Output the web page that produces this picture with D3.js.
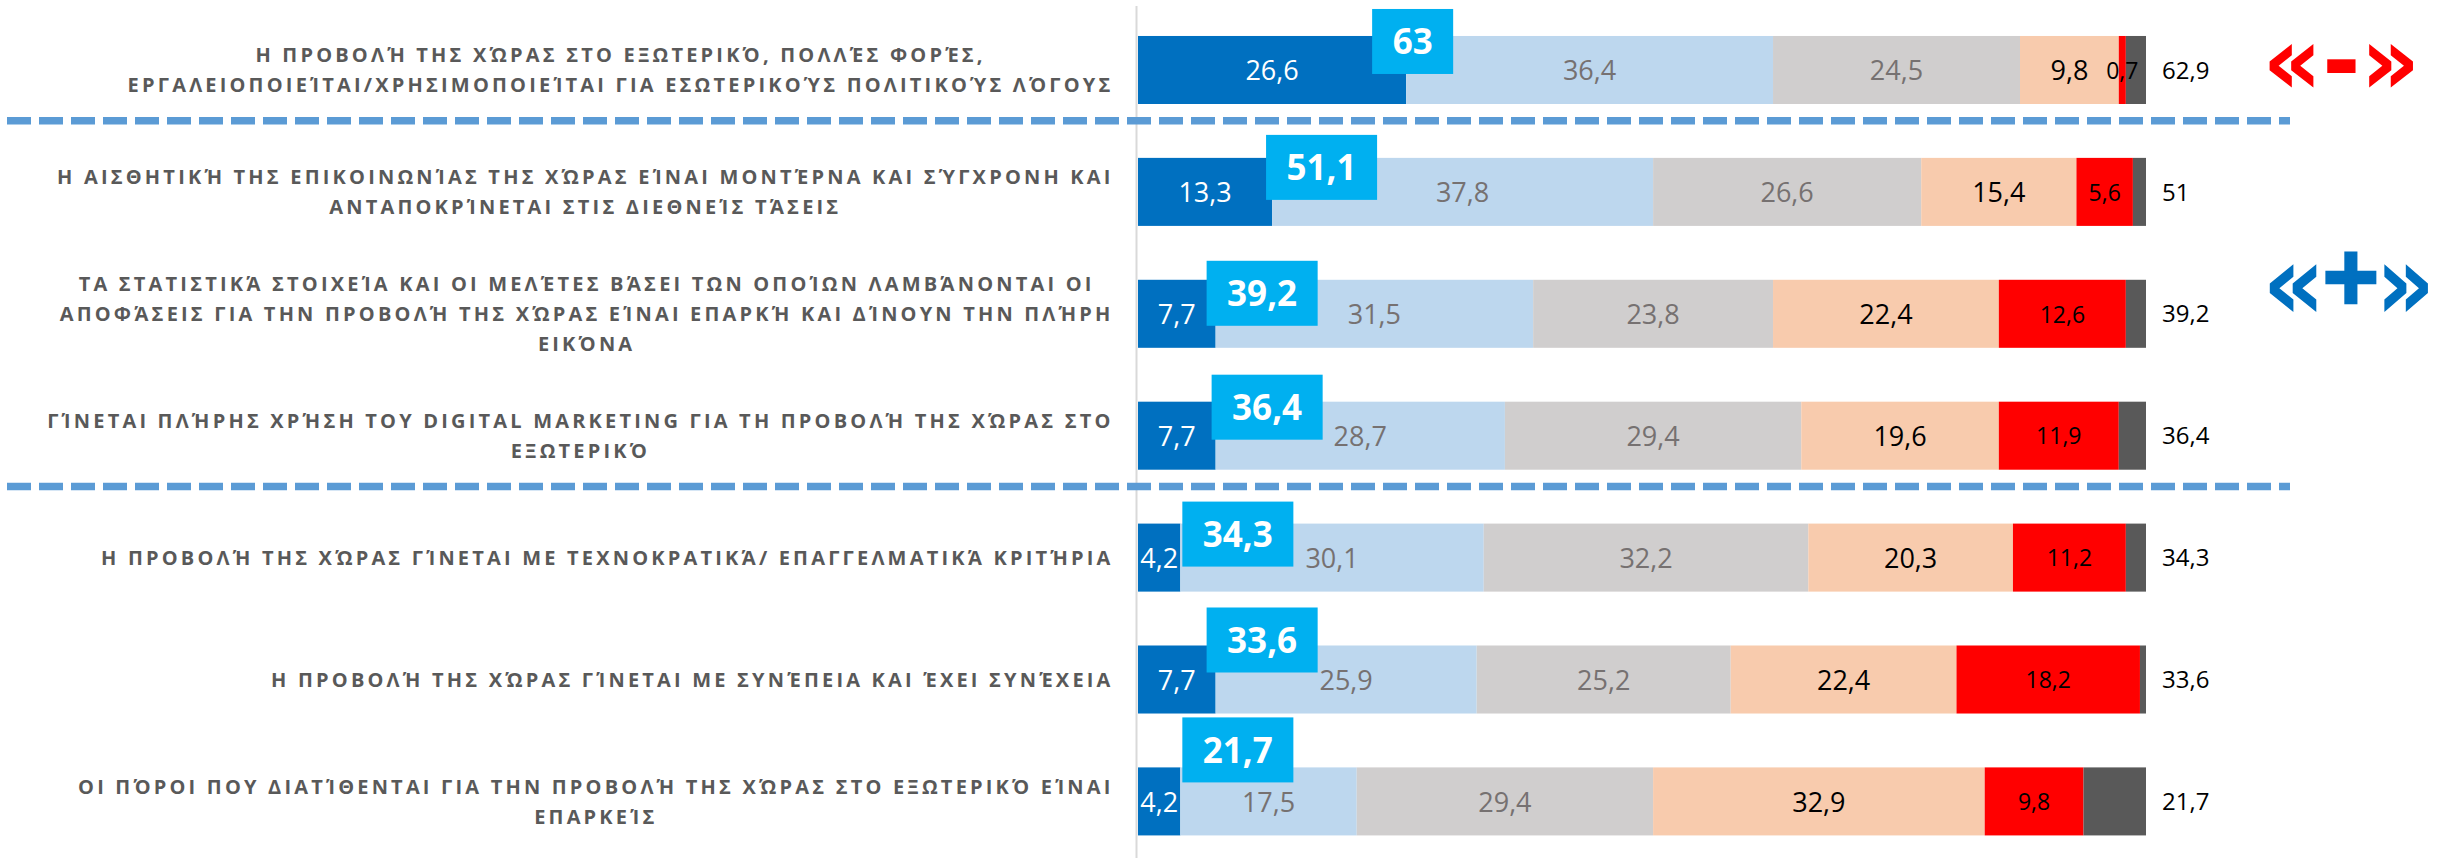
<!DOCTYPE html>
<html>
<head>
<meta charset="utf-8">
<script src="https://cdn.jsdelivr.net/npm/d3@7"></script>
<style>
  body { margin: 0; background: #fff; }
</style>
</head>
<body>
<div id="my_dataviz"></div>
<script>
// row labels, split into the lines shown in the picture
var categories = [
  ["Η ΠΡΟΒΟΛΉ ΤΗΣ ΧΏΡΑΣ ΣΤΟ ΕΞΩΤΕΡΙΚΌ, ΠΟΛΛΈΣ ΦΟΡΈΣ,",
   "ΕΡΓΑΛΕΙΟΠΟΙΕΊΤΑΙ/ΧΡΗΣΙΜΟΠΟΙΕΊΤΑΙ ΓΙΑ ΕΣΩΤΕΡΙΚΟΎΣ ΠΟΛΙΤΙΚΟΎΣ ΛΌΓΟΥΣ"],
  ["Η ΑΙΣΘΗΤΙΚΉ ΤΗΣ ΕΠΙΚΟΙΝΩΝΊΑΣ ΤΗΣ ΧΏΡΑΣ ΕΊΝΑΙ ΜΟΝΤΈΡΝΑ ΚΑΙ ΣΎΓΧΡΟΝΗ ΚΑΙ",
   "ΑΝΤΑΠΟΚΡΊΝΕΤΑΙ ΣΤΙΣ ΔΙΕΘΝΕΊΣ ΤΆΣΕΙΣ"],
  ["ΤΑ ΣΤΑΤΙΣΤΙΚΆ ΣΤΟΙΧΕΊΑ ΚΑΙ ΟΙ ΜΕΛΈΤΕΣ ΒΆΣΕΙ ΤΩΝ ΟΠΟΊΩΝ ΛΑΜΒΆΝΟΝΤΑΙ ΟΙ",
   "ΑΠΟΦΆΣΕΙΣ ΓΙΑ ΤΗΝ ΠΡΟΒΟΛΉ ΤΗΣ ΧΏΡΑΣ ΕΊΝΑΙ ΕΠΑΡΚΉ ΚΑΙ ΔΊΝΟΥΝ ΤΗΝ ΠΛΉΡΗ",
   "ΕΙΚΌΝΑ"],
  ["ΓΊΝΕΤΑΙ ΠΛΉΡΗΣ ΧΡΉΣΗ ΤΟΥ DIGITAL MARKETING ΓΙΑ ΤΗ ΠΡΟΒΟΛΉ ΤΗΣ ΧΏΡΑΣ ΣΤΟ",
   "ΕΞΩΤΕΡΙΚΌ"],
  ["Η ΠΡΟΒΟΛΉ ΤΗΣ ΧΏΡΑΣ ΓΊΝΕΤΑΙ ΜΕ ΤΕΧΝΟΚΡΑΤΙΚΆ/ ΕΠΑΓΓΕΛΜΑΤΙΚΆ ΚΡΙΤΉΡΙΑ"],
  ["Η ΠΡΟΒΟΛΉ ΤΗΣ ΧΏΡΑΣ ΓΊΝΕΤΑΙ ΜΕ ΣΥΝΈΠΕΙΑ ΚΑΙ ΈΧΕΙ ΣΥΝΈΧΕΙΑ"],
  ["ΟΙ ΠΌΡΟΙ ΠΟΥ ΔΙΑΤΊΘΕΝΤΑΙ ΓΙΑ ΤΗΝ ΠΡΟΒΟΛΉ ΤΗΣ ΧΏΡΑΣ ΣΤΟ ΕΞΩΤΕΡΙΚΌ ΕΊΝΑΙ",
   "ΕΠΑΡΚΕΊΣ"]
];

// series values (% of answers)
var veryMuch   = [26.6, 13.3, 7.7, 7.7, 4.2, 7.7, 4.2];
var much       = [36.4, 37.8, 31.5, 28.7, 30.1, 25.9, 17.5];
var moderately = [24.5, 26.6, 23.8, 29.4, 32.2, 25.2, 29.4];
var little     = [9.8, 15.4, 22.4, 19.6, 20.3, 22.4, 32.9];
var notAtAll   = [0.7, 5.6, 12.6, 11.9, 11.2, 18.2, 9.8];
var noAnswer   = [2.0, 1.3, 2.0, 2.7, 2.0, 0.6, 6.2];

// highlighted box (top two) and the figure to the right of each bar
var topTwo = [63, 51.1, 39.2, 36.4, 34.3, 33.6, 21.7];
var totals = [62.9, 51, 39.2, 36.4, 34.3, 33.6, 21.7];

// separators drawn after these rows
var groupBreaks = [0, 3];

var keys = ["veryMuch", "much", "moderately", "little", "notAtAll", "noAnswer"];
var colors = ["#0070C0", "#BDD7EE", "#D0CECE", "#F8CBAD", "#FF0000", "#595959"];
var labelColors = ["#FFFFFF", "#767171", "#767171", "#000000", "#000000", null];
var labelSizes = [27, 27, 27, 27, 23, 0];

var width = 2440, height = 858;

var svg = d3
  .select("#my_dataviz")
  .append("svg")
  .attr("width", width)
  .attr("height", height)
  .style("font-family", "'Open Sans', sans-serif");

var table = categories.map(function (c, i) {
  return {
    veryMuch: veryMuch[i], much: much[i], moderately: moderately[i],
    little: little[i], notAtAll: notAtAll[i], noAnswer: noAnswer[i]
  };
});
var series = d3.stack().keys(keys)(table);

var x = d3.scaleLinear().domain([0, 100]).range([1138, 2146]);
var y = d3
  .scaleBand()
  .domain(d3.range(categories.length))
  .range([5.5, 865.9])
  .paddingInner(0.442)
  .paddingOuter(0.25);
var bw = y.bandwidth();

var fmt = function (v) { return String(v).replace(".", ","); };

// vertical axis line
svg.append("g")
  .attr("transform", "translate(" + (x(0) - 2) + ",0)")
  .call(d3.axisLeft(y).tickSize(0).tickFormat(""))
  .call(function (g) {
    g.select(".domain").attr("stroke", "#D9D9D9").attr("stroke-width", 2);
  });

// stacked bars
var layer = svg
  .selectAll("g.layer")
  .data(series)
  .enter()
  .append("g")
  .attr("class", "layer")
  .attr("fill", function (d, k) { return colors[k]; });

layer
  .selectAll("rect")
  .data(function (d) { return d; })
  .enter()
  .append("rect")
  .attr("x", function (d) { return x(d[0]); })
  .attr("y", function (d, i) { return y(i); })
  .attr("width", function (d) { return x(d[1]) - x(d[0]); })
  .attr("height", bw);

// values inside the segments
series.forEach(function (s, k) {
  if (!labelColors[k]) return;
  svg.append("g")
    .selectAll("text")
    .data(s)
    .enter()
    .append("text")
    .attr("x", function (d) { return (x(d[0]) + x(d[1])) / 2; })
    .attr("y", function (d, i) { return y(i) + bw / 2; })
    .attr("dy", "0.38em")
    .attr("text-anchor", "middle")
    .attr("fill", labelColors[k])
    .style("font-size", labelSizes[k] + "px")
    .text(function (d) { return fmt(+(d[1] - d[0]).toFixed(1)); });
});

// totals on the right
svg.append("g")
  .selectAll("text")
  .data(totals)
  .enter()
  .append("text")
  .attr("x", x(100) + 16)
  .attr("y", function (d, i) { return y(i) + bw / 2; })
  .attr("dy", "0.36em")
  .attr("fill", "#000")
  .style("font-size", "24px")
  .text(function (d) { return fmt(d); });

// category labels: right aligned block, lines centred inside it.
// letter spacing is chosen so the longest first-row line fills the label column.
var labelRight = 1112, labelColumn = 986, lineH = 30;
var probe = svg.append("text")
  .style("font-size", "20px")
  .style("font-weight", 700)
  .text(categories[0][1]);
var spacing = (labelColumn - probe.node().getComputedTextLength()) / categories[0][1].length;
probe.remove();

categories.forEach(function (lines, i) {
  var g = svg.append("g");
  var cy = y(i) + bw / 2;
  var texts = g
    .selectAll("text")
    .data(lines)
    .enter()
    .append("text")
    .attr("y", function (d, j) { return cy + (j - (lines.length - 1) / 2) * lineH; })
    .attr("dy", "0.36em")
    .attr("text-anchor", "middle")
    .attr("fill", "#595959")
    .style("font-size", "20px")
    .style("font-weight", 700)
    .style("letter-spacing", spacing + "px")
    .text(function (d) { return d; });
  var maxW = d3.max(texts.nodes(), function (n) { return n.getComputedTextLength(); });
  texts.attr("x", labelRight - maxW / 2 + spacing / 2);
});

// dashed separators
groupBreaks.forEach(function (r) {
  var yy = y(r) + bw + (y(r + 1) - y(r) - bw) * 0.31;
  svg.append("line")
    .attr("x1", 7)
    .attr("x2", 2290)
    .attr("y1", yy)
    .attr("y2", yy)
    .attr("stroke", "#5B9BD5")
    .attr("stroke-width", 7.5)
    .attr("stroke-dasharray", "24 8");
});

// top-two boxes (hand placed in the original, hence the nudges)
var boxNudgeX = [-29, -1, -4, 1, 7, -4, 7];
var boxRaise = [27, 23, 19, 27, 22, 38, 50];
topTwo.forEach(function (v, i) {
  var g = svg.append("g");
  var t = g.append("text")
    .attr("text-anchor", "middle")
    .attr("fill", "#fff")
    .style("font-size", "35px")
    .style("font-weight", 700)
    .text(fmt(v));
  var w = t.node().getComputedTextLength() + 41;
  var left = x(veryMuch[i]) - 5 + boxNudgeX[i];
  var top = y(i) - boxRaise[i];
  g.insert("rect", "text")
    .attr("x", left)
    .attr("y", top)
    .attr("width", w)
    .attr("height", 65)
    .attr("fill", "#00B0F0");
  t.attr("x", left + w / 2).attr("y", top + 32.5).attr("dy", "0.36em");
});

// «-» and «+» markers: text stretched so its ink fills a box
var ctx = document.createElement("canvas").getContext("2d");
function fitText(str, box, color, sw) {
  var fs = 100;
  ctx.font = "700 " + fs + "px 'DejaVu Sans'";
  var m = ctx.measureText(str);
  var l = -m.actualBoundingBoxLeft - sw / 2, r = m.actualBoundingBoxRight + sw / 2;
  var t = -m.actualBoundingBoxAscent - sw / 2, b = m.actualBoundingBoxDescent + sw / 2;
  var sx = (box[1] - box[0]) / (r - l), sy = (box[3] - box[2]) / (b - t);
  svg.append("text")
    .attr("transform", "translate(" + box[0] + "," + box[2] + ") scale(" + sx + "," + sy + ") translate(" + (-l) + "," + (-t) + ")")
    .style("font-family", "'DejaVu Sans', sans-serif")
    .style("font-weight", 700)
    .style("font-size", fs + "px")
    .attr("fill", color)
    .attr("stroke", sw ? color : null)
    .attr("stroke-width", sw || null)
    .text(str);
}
var cMinus = y(0) + bw / 2 - 5, cPlus = y(2) + bw / 2 - 25;
fitText("«-»", [2269, 2413, cMinus - 21, cMinus + 23], "#FF0000", 0);
fitText("«", [2269, 2317, cPlus - 24, cPlus + 24], "#0070C0", 0);
fitText("+", [2325, 2377, cPlus - 37, cPlus + 16], "#0070C0", 6);
fitText("»", [2384, 2428, cPlus - 24, cPlus + 24], "#0070C0", 0);
</script>
</body>
</html>
